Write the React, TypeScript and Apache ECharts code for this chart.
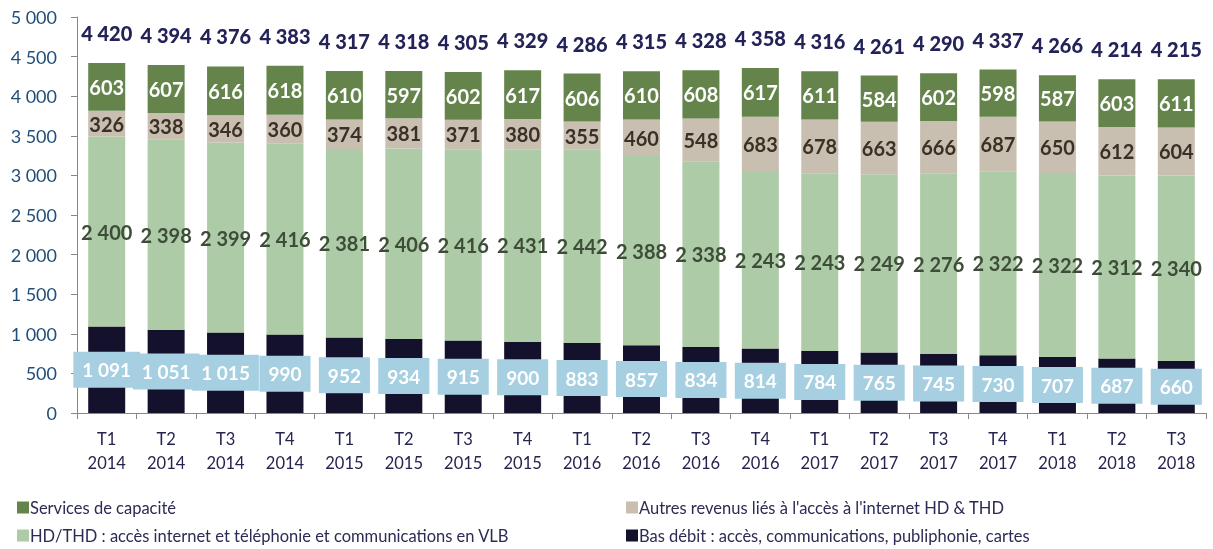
import React, { useEffect, useRef } from "react";
import * as echarts from "echarts";

const categories = [
  "T1\n2014", "T2\n2014", "T3\n2014", "T4\n2014",
  "T1\n2015", "T2\n2015", "T3\n2015", "T4\n2015",
  "T1\n2016", "T2\n2016", "T3\n2016", "T4\n2016",
  "T1\n2017", "T2\n2017", "T3\n2017", "T4\n2017",
  "T1\n2018", "T2\n2018", "T3\n2018",
];
const basDebit = [1091, 1051, 1015, 990, 952, 934, 915, 900, 883, 857, 834, 814, 784, 765, 745, 730, 707, 687, 660];
const hdThd = [2400, 2398, 2399, 2416, 2381, 2406, 2416, 2431, 2442, 2388, 2338, 2243, 2243, 2249, 2276, 2322, 2322, 2312, 2340];
const autres = [326, 338, 346, 360, 374, 381, 371, 380, 355, 460, 548, 683, 678, 663, 666, 687, 650, 612, 604];
const services = [603, 607, 616, 618, 610, 597, 602, 617, 606, 610, 608, 617, 611, 584, 602, 598, 587, 603, 611];
const totals = [4420, 4394, 4376, 4383, 4317, 4318, 4305, 4329, 4286, 4315, 4328, 4358, 4316, 4261, 4290, 4337, 4266, 4214, 4215];

const names = {
  services: "Services de capacité",
  autres: "Autres revenus liés à l'accès à l'internet HD & THD",
  hd: "HD/THD : accès internet et téléphonie et communications en VLB",
  bas: "Bas débit : accès, communications, publiphonie, cartes",
};

const FONT = "Lato, 'Open Sans', sans-serif";
const fmt = (n: number) => String(n).replace(/\B(?=(\d{3})+(?!\d))/g, " ");

export default function App() {
  const ref = useRef<HTMLDivElement>(null);
  useEffect(() => {
    if (!ref.current) return;
    const chart = echarts.init(ref.current, undefined, { renderer: "svg" });
    const segLabel = (color: string, size = 20) => ({
      show: true,
      position: "inside" as const,
      color,
      fontWeight: "bold" as const,
      fontSize: size,
      fontFamily: FONT,
      formatter: (p: any) => fmt(p.value),
    });
    const legendItem = (name: string, left: number, top: number) => ({
      data: [name],
      left,
      top,
      itemWidth: 12,
      itemHeight: 12,
      icon: "rect",
      padding: 0,
      textStyle: { fontSize: 16.5, color: "#2B2B55", fontFamily: FONT, padding: [0, 0, 0, -4] },
    });
    chart.setOption({
      animation: false,
      textStyle: { fontFamily: FONT },
      grid: { left: 77, right: 7, top: 17, bottom: 136, containLabel: false },
      legend: [
        legendItem(names.services, 17, 499),
        legendItem(names.hd, 17, 527),
        legendItem(names.autres, 626, 499),
        legendItem(names.bas, 626, 527),
      ],
      xAxis: {
        type: "category",
        data: categories,
        axisLine: { lineStyle: { color: "#888888" } },
        axisTick: { show: true, length: 6, lineStyle: { color: "#888888" } },
        axisLabel: { color: "#24244F", fontSize: 16.5, lineHeight: 24, margin: 14, fontFamily: FONT },
      },
      yAxis: {
        type: "value",
        min: 0,
        max: 5000,
        interval: 500,
        splitLine: { show: false },
        axisLine: { show: true, lineStyle: { color: "#888888" } },
        axisTick: { show: true, length: 6, lineStyle: { color: "#888888" } },
        axisLabel: {
          color: "#1F4E79",
          fontSize: 18,
          margin: 20,
          fontFamily: FONT,
          formatter: (v: number) => fmt(v),
        },
      },
      series: [
        {
          name: names.bas,
          type: "bar",
          stack: "t",
          barWidth: 37,
          data: basDebit,
          itemStyle: { color: "#13112B" },
          label: {
            ...segLabel("#FFFFFF", 19),
            backgroundColor: "#A6D0E1",
            padding: [9, 9, 8, 9],
          },
        },
        {
          name: names.hd,
          type: "bar",
          stack: "t",
          data: hdThd,
          itemStyle: { color: "#ADCBA6" },
          label: segLabel("#3D4D38"),
        },
        {
          name: names.autres,
          type: "bar",
          stack: "t",
          data: autres,
          itemStyle: { color: "#C9BFB1" },
          label: segLabel("#3A3026"),
        },
        {
          name: names.services,
          type: "bar",
          stack: "t",
          data: services,
          itemStyle: { color: "#64844C" },
          label: segLabel("#FFFFFF"),
        },
        {
          name: "Total",
          type: "scatter",
          data: totals,
          symbol: "circle",
          symbolSize: 0,
          itemStyle: { color: "#26265A", opacity: 1 },
          z: 10,
          label: {
            show: true,
            position: "top",
            distance: 20,
            color: "#23235A",
            fontWeight: 900,
            fontSize: 20,
            fontFamily: FONT,
            formatter: (p: any) => fmt(p.value),
          },
        },
      ],
    });
    return () => chart.dispose();
  }, []);
  return (
    <div
      ref={ref}
      style={{ position: "fixed", left: 0, top: 0, width: 1213, height: 549 }}
    />
  );
}
